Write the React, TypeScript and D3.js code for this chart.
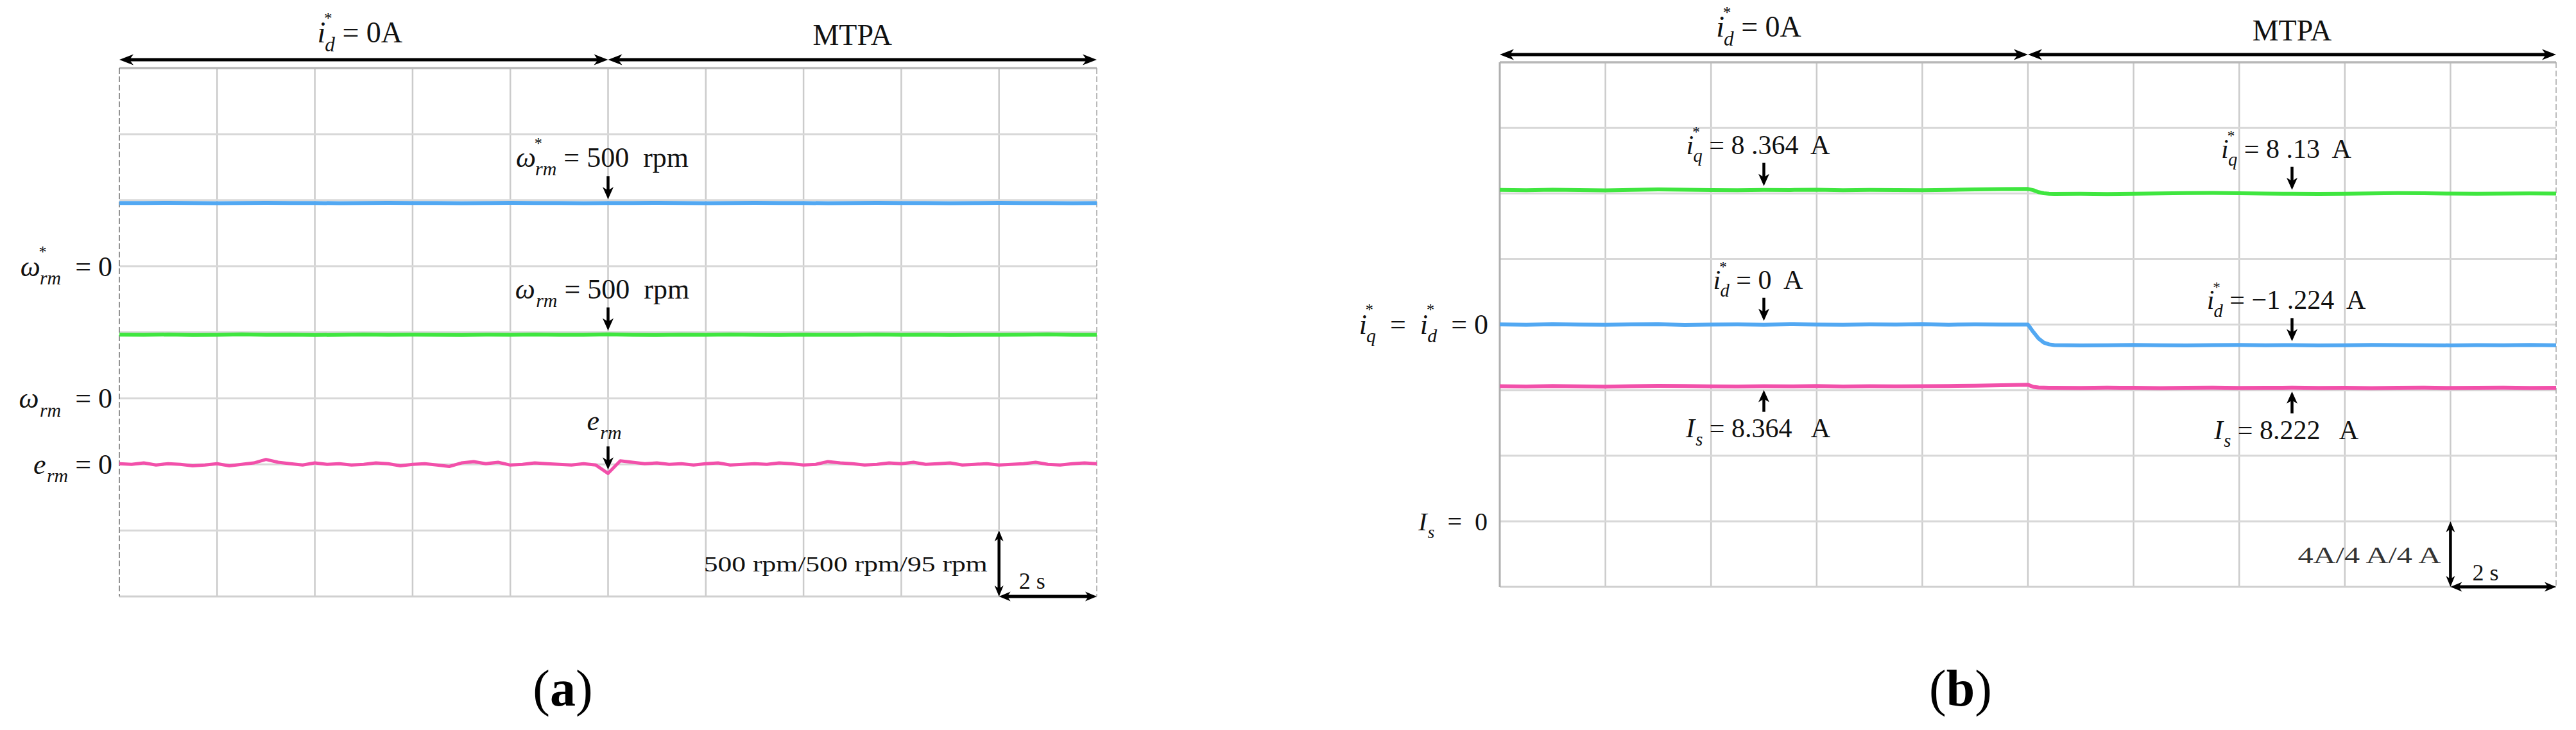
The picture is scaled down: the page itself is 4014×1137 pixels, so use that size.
import React from "react";
import * as d3 from "d3";

const FONT = '"Liberation Serif", "Times New Roman", Times, serif';
const BLUE = "#52a8f2";
const GREEN = "#3fe63f";
const PINK = "#f250aa";

// ---------------- Panel (a): speed response (rpm) ----------------
const timeA: number[] = [0, 0.5, 1, 1.5, 2, 2.5, 3, 3.5, 4, 4.5, 5, 5.5, 6, 6.5, 7, 7.5, 8, 8.5, 9, 9.5, 10, 10.5, 11, 11.5, 12, 12.5, 13, 13.5, 14, 14.5, 15, 15.5, 16, 16.5, 17, 17.5, 18, 18.5, 19, 19.5, 20];
const speedRefRpm: number[] = [478, 478, 479, 478, 477, 478, 479, 478, 478, 477, 478, 479, 478, 478, 477, 478, 479, 478, 478, 477, 478, 478, 479, 478, 477, 478, 479, 478, 478, 477, 478, 479, 478, 478, 477, 478, 479, 478, 478, 477, 478];
const speedActRpm: number[] = [482, 480, 483, 479, 481, 484, 480, 482, 479, 481, 483, 480, 482, 481, 479, 482, 480, 483, 481, 480, 484, 481, 479, 482, 480, 483, 481, 479, 482, 480, 481, 483, 480, 482, 479, 481, 480, 482, 484, 481, 480];
const timeE: number[] = [0, 0.25, 0.5, 0.75, 1, 1.25, 1.5, 1.75, 2, 2.25, 2.5, 2.75, 3, 3.25, 3.5, 3.75, 4, 4.25, 4.5, 4.75, 5, 5.25, 5.5, 5.75, 6, 6.25, 6.5, 6.75, 7, 7.25, 7.5, 7.75, 8, 8.25, 8.5, 8.75, 9, 9.25, 9.5, 9.75, 10, 10.25, 10.5, 10.75, 11, 11.25, 11.5, 11.75, 12, 12.25, 12.5, 12.75, 13, 13.25, 13.5, 13.75, 14, 14.25, 14.5, 14.75, 15, 15.25, 15.5, 15.75, 16, 16.25, 16.5, 16.75, 17, 17.25, 17.5, 17.75, 18, 18.25, 18.5, 18.75, 19, 19.25, 19.5, 19.75, 20];
const speedErrRpm: number[] = [
  1, 0, 2, -1,
  1, 0, -2, -1,
  1, -2, 0, 2,
  7, 3, 1, -1,
  2, 0, 1, -1,
  0, 2, 1, -2,
  0, 1, -1, -3,
  2, 4, 1, 3,
  -1, 0, 2, 1,
  0, -1, 1, -1,
  -13, 5, 3, 1,
  2, 0, 1, -1,
  1, 2, -1, 0,
  1, 0, 2, 1,
  -1, 0, 4, 2,
  1, -1, 0, 2,
  1, 3, 0, 1,
  2, -1, 0, 1,
  -1, 0, 1, 3,
  0, -1, 1, 2,
  1,
];

// ---------------- Panel (b): currents (A) ----------------
const timeB: number[] = [0, 0.5, 1, 1.5, 2, 2.5, 3, 3.5, 4, 4.5, 5, 5.5, 6, 6.5, 7, 7.5, 8, 8.5, 9, 9.5, 10, 10.1, 10.2, 10.3, 10.4, 10.5, 11, 11.5, 12, 12.5, 13, 13.5, 14, 14.5, 15, 15.5, 16, 16.5, 17, 17.5, 18, 18.5, 19, 19.5, 20];
const iqRefA: number[] = [8.22, 8.2, 8.23, 8.21, 8.19, 8.22, 8.24, 8.23, 8.21, 8.2, 8.22, 8.21, 8.23, 8.2, 8.22, 8.21, 8.2, 8.22, 8.24, 8.26, 8.27, 8.2, 8.08, 8.01, 7.98, 7.97, 7.98, 7.96, 7.98, 8.0, 8.02, 8.03, 8.01, 7.99, 7.98, 7.97, 7.98, 8.0, 8.02, 8.01, 7.99, 7.98, 7.99, 8.0, 7.99];
const idRefA: number[] = [0.01, -0.01, 0.02, 0.0, -0.01, 0.01, 0.02, -0.02, 0.0, 0.01, -0.01, 0.02, 0.0, -0.01, 0.01, 0.0, 0.02, -0.01, 0.01, 0.0, 0.0, -0.45, -0.85, -1.1, -1.21, -1.25, -1.27, -1.26, -1.24, -1.26, -1.27, -1.25, -1.24, -1.26, -1.25, -1.27, -1.26, -1.24, -1.25, -1.26, -1.27, -1.25, -1.26, -1.24, -1.26];
const isActA: number[] = [8.24, 8.22, 8.25, 8.23, 8.21, 8.24, 8.26, 8.25, 8.23, 8.22, 8.24, 8.23, 8.25, 8.22, 8.24, 8.23, 8.24, 8.25, 8.27, 8.3, 8.33, 8.2, 8.16, 8.15, 8.14, 8.14, 8.13, 8.15, 8.14, 8.12, 8.14, 8.15, 8.13, 8.14, 8.15, 8.13, 8.14, 8.12, 8.14, 8.15, 8.13, 8.14, 8.15, 8.13, 8.14];

// ---------------- Text ----------------
const modeNames = ["i_d", "MTPA"];
const modeSplit = [0, 10, 20];
const scaleTextA = "500 rpm/500 rpm/95 rpm";
const scaleTextB = "4A/4 A/4 A";
const timeDivText = "2 s";
const panelLetters = ["a", "b"];

type Sym = { b: string; s: string; star?: boolean };
type Seg = string | Sym;

function MathText({ x, y, fs, anchor = "middle", segs }: { x: number; y: number; fs: number; anchor?: string; segs: Seg[] }) {
  const out: any[] = [];
  let shift = 0;
  segs.forEach((seg, i) => {
    if (typeof seg === "string") {
      out.push(<tspan key={i + "t"} dy={-shift}>{seg}</tspan>);
      shift = 0;
    } else {
      out.push(<tspan key={i + "b"} fontStyle="italic" dy={-shift}>{seg.b}</tspan>);
      shift = 0;
      let dxSub = 0.03 * fs;
      if (seg.star) {
        const sdx = -0.05 * fs;
        out.push(<tspan key={i + "s"} fontSize={fs * 0.55} dx={sdx} dy={-0.64 * fs}>*</tspan>);
        shift = -0.64 * fs;
        dxSub = -(0.275 * fs + sdx) - 0.02 * fs;
      }
      const target = 0.3 * fs;
      out.push(
        <tspan key={i + "u"} fontStyle="italic" fontSize={fs * 0.68} dx={dxSub} dy={target - shift}>
          {seg.s}
        </tspan>
      );
      shift = target;
    }
  });
  return (
    <text x={x} y={y} fontSize={fs} fontFamily={FONT} textAnchor={anchor} fill="#111" style={{ whiteSpace: "pre" }}>
      {out}
    </text>
  );
}

function headPath(tx: number, ty: number, ux: number, uy: number, len: number, w: number) {
  const bx = tx - ux * len, by = ty - uy * len;
  const px = -uy, py = ux;
  const nx = tx - ux * len * 0.72, ny = ty - uy * len * 0.72;
  return `M${tx},${ty}L${bx + (px * w) / 2},${by + (py * w) / 2}L${nx},${ny}L${bx - (px * w) / 2},${by - (py * w) / 2}Z`;
}

function Arrow({ x1, y1, x2, y2, both = false, sw = 5, hl = 20, hw = 16 }: any) {
  const dx = x2 - x1, dy = y2 - y1;
  const L = Math.hypot(dx, dy);
  const ux = dx / L, uy = dy / L;
  const sx = both ? x1 + ux * hl * 0.6 : x1;
  const sy = both ? y1 + uy * hl * 0.6 : y1;
  const ex = x2 - ux * hl * 0.6, ey = y2 - uy * hl * 0.6;
  return (
    <g>
      <line x1={sx} y1={sy} x2={ex} y2={ey} stroke="#000" strokeWidth={sw} />
      <path d={headPath(x2, y2, ux, uy, hl, hw)} fill="#000" />
      {both && <path d={headPath(x1, y1, -ux, -uy, hl, hw)} fill="#000" />}
    </g>
  );
}

type Channel = { t: number[]; v: number[]; zeroDiv: number; perDiv: number; color: string; width: number };

function valueAt(ch: Channel, t: number) {
  const i = ch.t.indexOf(t);
  return ch.v[i];
}

function Grid({ x, d, leftSolid }: { x: any; d: any; leftSolid: boolean }) {
  const [x0, x1] = x.range();
  const [y0, y1] = d.range();
  return (
    <g>
      {d3.range(2, 20, 2).map((t) => (
        <line key={"v" + t} x1={x(t)} x2={x(t)} y1={y0} y2={y1} stroke="#cbcbcb" strokeWidth={2.5} />
      ))}
      {d3.range(1, 8).map((k) => (
        <line key={"h" + k} x1={x0} x2={x1} y1={d(k)} y2={d(k)} stroke="#d8d8d8" strokeWidth={3} />
      ))}
      <line x1={x0} x2={x1} y1={y0} y2={y0} stroke="#b8b8b8" strokeWidth={3.5} />
      <line x1={x0} x2={x1} y1={y1} y2={y1} stroke="#d0d0d0" strokeWidth={3} />
      {leftSolid ? (
        <line x1={x0} x2={x0} y1={y0} y2={y1} stroke="#b0b0b0" strokeWidth={3} />
      ) : (
        <line x1={x0} x2={x0} y1={y0} y2={y1} stroke="#777" strokeWidth={1.6} strokeDasharray="9 4" />
      )}
      <line x1={x1} x2={x1} y1={y0} y2={y1} stroke="#aaa" strokeWidth={1.6} strokeDasharray="9 4" />
    </g>
  );
}

function Traces({ x, d, channels }: { x: any; d: any; channels: Channel[] }) {
  return (
    <g>
      {channels.map((ch, k) => {
        const line = d3
          .line<number>()
          .x((_, i) => x(ch.t[i]))
          .y((v) => d(ch.zeroDiv - v / ch.perDiv));
        return <path key={k} d={line(ch.v) || ""} fill="none" stroke={ch.color} strokeWidth={ch.width} strokeLinejoin="round" />;
      })}
    </g>
  );
}

export default function App() {
  const xA = d3.scaleLinear().domain([0, 20]).range([186, 1709]);
  const dA = d3.scaleLinear().domain([0, 8]).range([106, 929]);
  const xB = d3.scaleLinear().domain([0, 20]).range([2337, 3983]);
  const dB = d3.scaleLinear().domain([0, 8]).range([97, 914]);

  const chA: Channel[] = [
    { t: timeA, v: speedRefRpm, zeroDiv: 3, perDiv: 500, color: BLUE, width: 6 },
    { t: timeA, v: speedActRpm, zeroDiv: 5, perDiv: 500, color: GREEN, width: 6 },
    { t: timeE, v: speedErrRpm, zeroDiv: 6, perDiv: 95, color: PINK, width: 5 },
  ];
  const chB: Channel[] = [
    { t: timeB, v: iqRefA, zeroDiv: 4, perDiv: 4, color: GREEN, width: 6 },
    { t: timeB, v: idRefA, zeroDiv: 4, perDiv: 4, color: BLUE, width: 6 },
    { t: timeB, v: isActA, zeroDiv: 7, perDiv: 4, color: PINK, width: 6 },
  ];

  const yOf = (ch: Channel, d: any, v: number) => d(ch.zeroDiv - v / ch.perDiv);

  const annA: { ch: number; t: number; up: boolean; segs: Seg[] }[] = [
    { ch: 0, t: 10, up: false, segs: [{ b: "ω", s: "rm", star: true }, " = 500  rpm"] },
    { ch: 1, t: 10, up: false, segs: [{ b: "ω", s: "rm" }, " = 500  rpm"] },
    { ch: 2, t: 10, up: false, segs: [{ b: "e", s: "rm" }] },
  ];
  const annB: { ch: number; t: number; up: boolean; segs: Seg[] }[] = [
    { ch: 0, t: 5, up: false, segs: [{ b: "i", s: "q", star: true }, " = 8 .364  A"] },
    { ch: 0, t: 15, up: false, segs: [{ b: "i", s: "q", star: true }, " = 8 .13  A"] },
    { ch: 1, t: 5, up: false, segs: [{ b: "i", s: "d", star: true }, " = 0  A"] },
    { ch: 1, t: 15, up: false, segs: [{ b: "i", s: "d", star: true }, " = \u22121 .224  A"] },
    { ch: 2, t: 5, up: true, segs: [{ b: "I", s: "s" }, " = 8.364   A"] },
    { ch: 2, t: 15, up: true, segs: [{ b: "I", s: "s" }, " = 8.222   A"] },
  ];

  const renderAnn = (ann: typeof annA, chs: Channel[], x: any, d: any, fs: number, pre: string) =>
    ann.map((a, i) => {
      const ch = chs[a.ch];
      const ax = x(a.t);
      const ty = yOf(ch, d, valueAt(ch, a.t));
      const symbolOnly = a.segs.length === 1;
      if (!a.up) {
        const tip = ty - 6;
        const tail = tip - 36;
        return (
          <g key={pre + i}>
            <Arrow x1={ax} y1={tail} x2={ax} y2={tip} sw={4.5} hl={19} hw={17} />
            <MathText x={symbolOnly ? ax - 6 : ax - 9} y={tail - (symbolOnly ? 25 : 14)} fs={fs} segs={a.segs} />
          </g>
        );
      }
      const tip = ty + 6;
      const tail = tip + 34;
      return (
        <g key={pre + i}>
          <Arrow x1={ax} y1={tail} x2={ax} y2={tip} sw={4.5} hl={19} hw={17} />
          <MathText x={ax - 9} y={tail + 40} fs={fs} segs={a.segs} />
        </g>
      );
    });

  const modeLabel = (name: string, cx: number, y: number, fs: number, key: string) =>
    name === "i_d" ? (
      <MathText key={key} x={cx} y={y} fs={fs} segs={[{ b: "i", s: "d", star: true }, " = 0A"]} />
    ) : (
      <text key={key} x={cx} y={y} fontSize={fs} fontFamily={FONT} textAnchor="middle" fill="#111">
        {name}
      </text>
    );

  return (
    <svg width={4014} height={1137} style={{ position: "absolute", left: 0, top: 0, background: "#fff" }}>
      <rect width={4014} height={1137} fill="#fff" />

      {/* ---------- Panel (a) ---------- */}
      <Grid x={xA} d={dA} leftSolid={false} />
      <Traces x={xA} d={dA} channels={chA} />
      {modeSplit.slice(0, 2).map((s, i) => (
        <Arrow key={"ma" + i} x1={xA(s)} y1={93} x2={xA(modeSplit[i + 1])} y2={93} both sw={5} hl={22} hw={17} />
      ))}
      {modeLabel(modeNames[0], (xA(0) + xA(10)) / 2 - 6, 66, 46, "la0")}
      {modeLabel(modeNames[1], (xA(10) + xA(20)) / 2, 70, 46, "la1")}
      <MathText x={175} y={dA(chA[0].zeroDiv) + 15} fs={44} anchor="end" segs={[{ b: "ω", s: "rm", star: true }, "  = 0"]} />
      <MathText x={175} y={dA(chA[1].zeroDiv) + 15} fs={44} anchor="end" segs={[{ b: "ω", s: "rm" }, "  = 0"]} />
      <MathText x={175} y={dA(chA[2].zeroDiv) + 15} fs={44} anchor="end" segs={[{ b: "e", s: "rm" }, " = 0"]} />
      {renderAnn(annA, chA, xA, dA, 44, "aa")}
      <Arrow x1={xA(18)} y1={dA(7)} x2={xA(18)} y2={dA(8)} both sw={4.5} hl={17} hw={14} />
      <Arrow x1={xA(18)} y1={dA(8)} x2={xA(20)} y2={dA(8)} both sw={5} hl={18} hw={15} />
      <text x={xA(18) - 18} y={dA(7) + 64} fontSize={34} fontFamily={FONT} textAnchor="end" textLength={442} lengthAdjust="spacingAndGlyphs" fill="#111">
        {scaleTextA}
      </text>
      <text x={xA(18) + 31} y={dA(8) - 12} fontSize={36} fontFamily={FONT} fill="#111" style={{ whiteSpace: "pre" }}>
        {timeDivText}
      </text>
      <text x={877} y={1099} fontSize={80} fontFamily={FONT} textAnchor="middle" fill="#000">
        <tspan>(</tspan>
        <tspan fontWeight="bold">{panelLetters[0]}</tspan>
        <tspan>)</tspan>
      </text>

      {/* ---------- Panel (b) ---------- */}
      <Grid x={xB} d={dB} leftSolid={true} />
      <Traces x={xB} d={dB} channels={chB} />
      {modeSplit.slice(0, 2).map((s, i) => (
        <Arrow key={"mb" + i} x1={xB(s)} y1={85} x2={xB(modeSplit[i + 1])} y2={85} both sw={5} hl={22} hw={17} />
      ))}
      {modeLabel(modeNames[0], (xB(0) + xB(10)) / 2 - 8, 57, 46, "lb0")}
      {modeLabel(modeNames[1], (xB(10) + xB(20)) / 2, 63, 46, "lb1")}
      <MathText
        x={2319}
        y={dB(chB[0].zeroDiv) + 14}
        fs={44}
        anchor="end"
        segs={[{ b: "i", s: "q", star: true }, "  =  ", { b: "i", s: "d", star: true }, "  = 0"]}
      />
      <MathText x={2318} y={dB(chB[2].zeroDiv) + 14} fs={40} anchor="end" segs={[{ b: "I", s: "s" }, "  =  0"]} />
      {renderAnn(annB, chB, xB, dB, 42, "bb")}
      <Arrow x1={xB(18)} y1={dB(7)} x2={xB(18)} y2={dB(8)} both sw={4.5} hl={17} hw={14} />
      <Arrow x1={xB(18)} y1={dB(8)} x2={xB(20)} y2={dB(8)} both sw={5} hl={18} hw={15} />
      <text x={xB(18) - 15} y={dB(7) + 65} fontSize={36} fontFamily={FONT} textAnchor="end" textLength={223} lengthAdjust="spacingAndGlyphs" fill="#333">
        {scaleTextB}
      </text>
      <text x={xB(18) + 34} y={dB(8) - 10} fontSize={36} fontFamily={FONT} fill="#111" style={{ whiteSpace: "pre" }}>
        {timeDivText}
      </text>
      <text x={3055} y={1099} fontSize={80} fontFamily={FONT} textAnchor="middle" fill="#000">
        <tspan>(</tspan>
        <tspan fontWeight="bold">{panelLetters[1]}</tspan>
        <tspan>)</tspan>
      </text>
    </svg>
  );
}
